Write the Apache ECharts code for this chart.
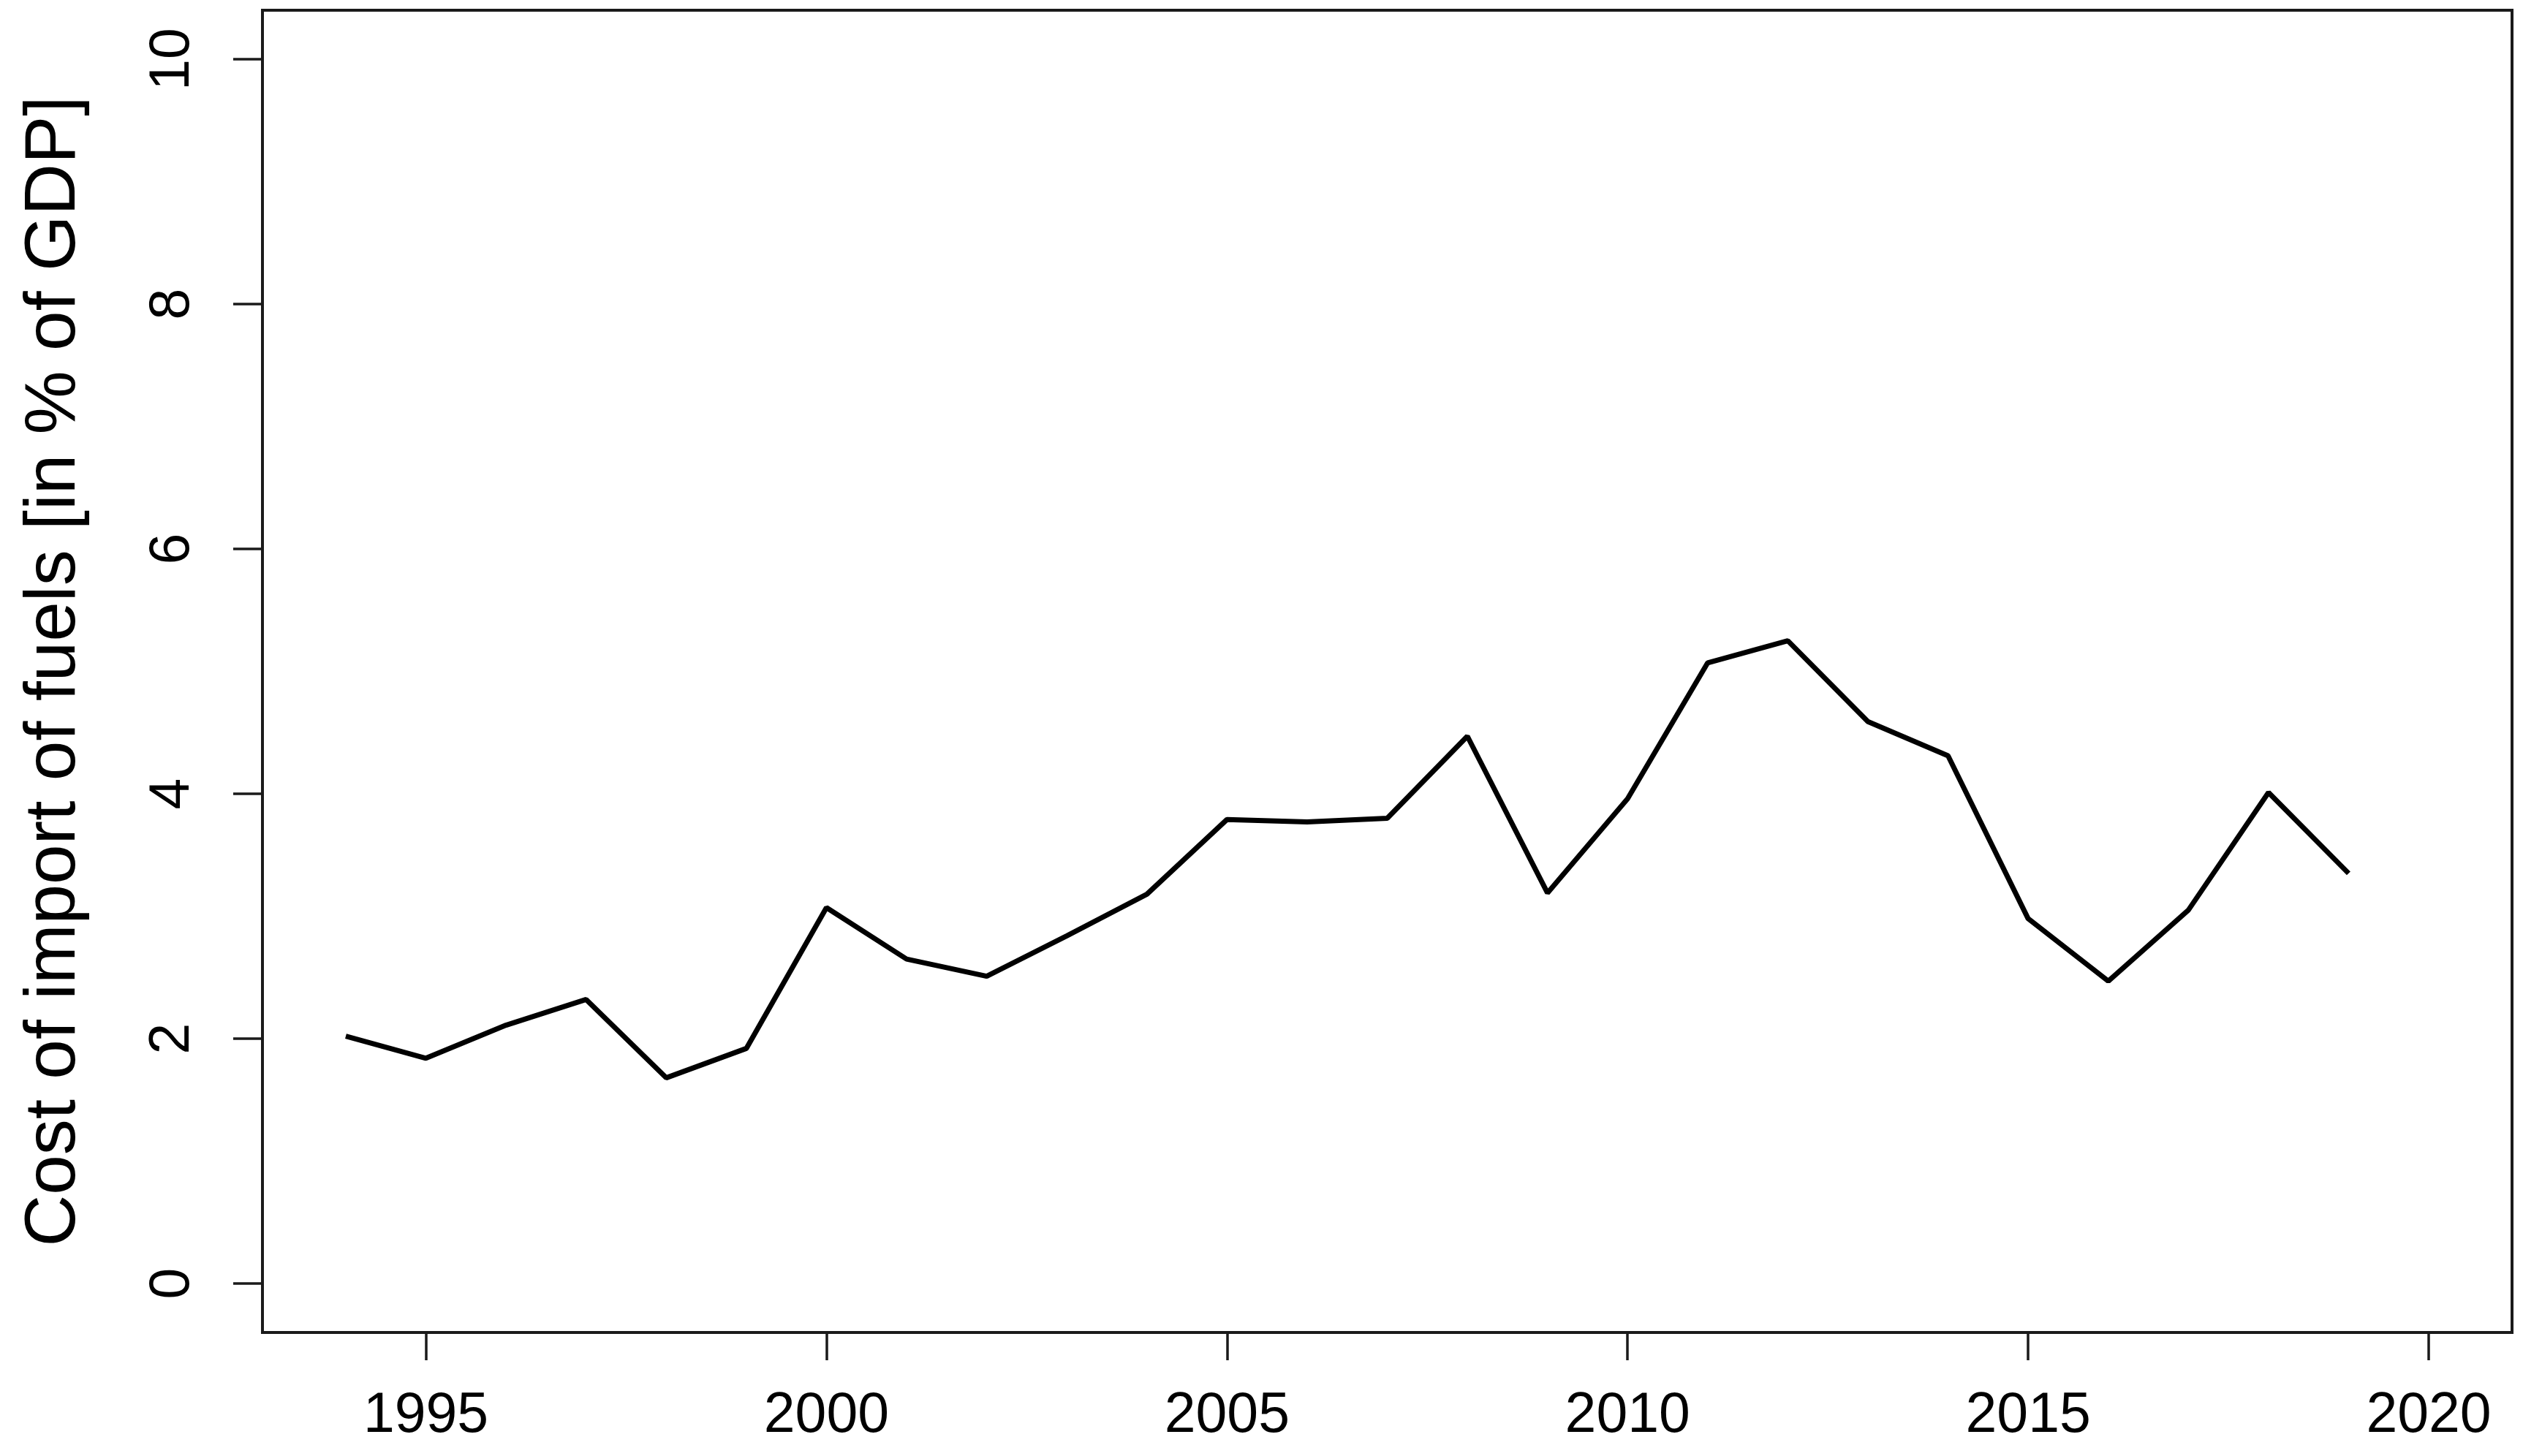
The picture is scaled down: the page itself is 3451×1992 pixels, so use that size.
<!DOCTYPE html>
<html>
<head>
<meta charset="utf-8">
<title>Cost of import of fuels</title>
<script src="https://cdn.jsdelivr.net/npm/echarts@6/dist/echarts.min.js"></script>
<style>
  html, body { margin: 0; padding: 0; background: #fff; }
  #chart { width: 3451px; height: 1992px; }
</style>
</head>
<body>
<div id="chart"></div>
<script>
// years on the x axis
const years = [1994, 1995, 1996, 1997, 1998, 1999, 2000, 2001, 2002, 2003, 2004, 2005, 2006,
               2007, 2008, 2009, 2010, 2011, 2012, 2013, 2014, 2015, 2016, 2017, 2018, 2019];
// cost of import of fuels, % of GDP
const fuelCost = [2.02, 1.84, 2.11, 2.32, 1.68, 1.92, 3.07, 2.65, 2.51, 2.84, 3.18, 3.79, 3.77,
                  3.80, 4.47, 3.19, 3.96, 5.07, 5.25, 4.59, 4.31, 2.98, 2.47, 3.05, 4.01, 3.35];
// tick labels
const xTicks = [1995, 2000, 2005, 2010, 2015, 2020];
const yTicks = [0, 2, 4, 6, 8, 10];

const chart = echarts.init(document.getElementById('chart'));
const font = '"Liberation Sans", Arial, Helvetica, sans-serif';

const option = {
  animation: false,
  backgroundColor: '#ffffff',
  grid: {
    left: 359,
    right: 15,
    top: 14,
    bottom: 169,
    show: true,
    borderColor: '#1a1a1a',
    borderWidth: 4,
    backgroundColor: 'transparent'
  },
  xAxis: {
    type: 'value',
    min: 1992.96,   // R pads the range 4% each side
    max: 2021.04,
    splitLine: { show: false },
    axisLine: { show: false, onZero: false },
    axisTick: {
      show: true,
      customValues: xTicks,
      length: 38,
      lineStyle: { color: '#1a1a1a', width: 3.5 }
    },
    axisLabel: {
      customValues: xTicks,
      formatter: v => String(v),
      margin: 76,
      fontSize: 77,
      fontFamily: font,
      color: '#000'
    }
  },
  yAxis: {
    type: 'value',
    min: -0.4,
    max: 10.4,
    name: 'Cost of import of fuels [in % of GDP]',
    nameLocation: 'middle',
    nameGap: 235,
    nameRotate: 90,
    nameTextStyle: { fontSize: 98, fontFamily: font, color: '#000' },
    splitLine: { show: false },
    axisLine: { show: false, onZero: false },
    axisTick: {
      show: true,
      customValues: yTicks,
      length: 40,
      lineStyle: { color: '#1a1a1a', width: 3.5 }
    },
    axisLabel: {
      customValues: yTicks,
      formatter: v => String(v),
      rotate: 90,
      margin: 84,
      fontSize: 77,
      fontFamily: font,
      color: '#000'
    }
  },
  series: [
    {
      type: 'line',
      data: years.map((y, i) => [y, fuelCost[i]]),
      symbol: 'none',
      lineStyle: { color: '#000', width: 7 },
      z: 3
    }
  ]
};

chart.setOption(option);
</script>
</body>
</html>
